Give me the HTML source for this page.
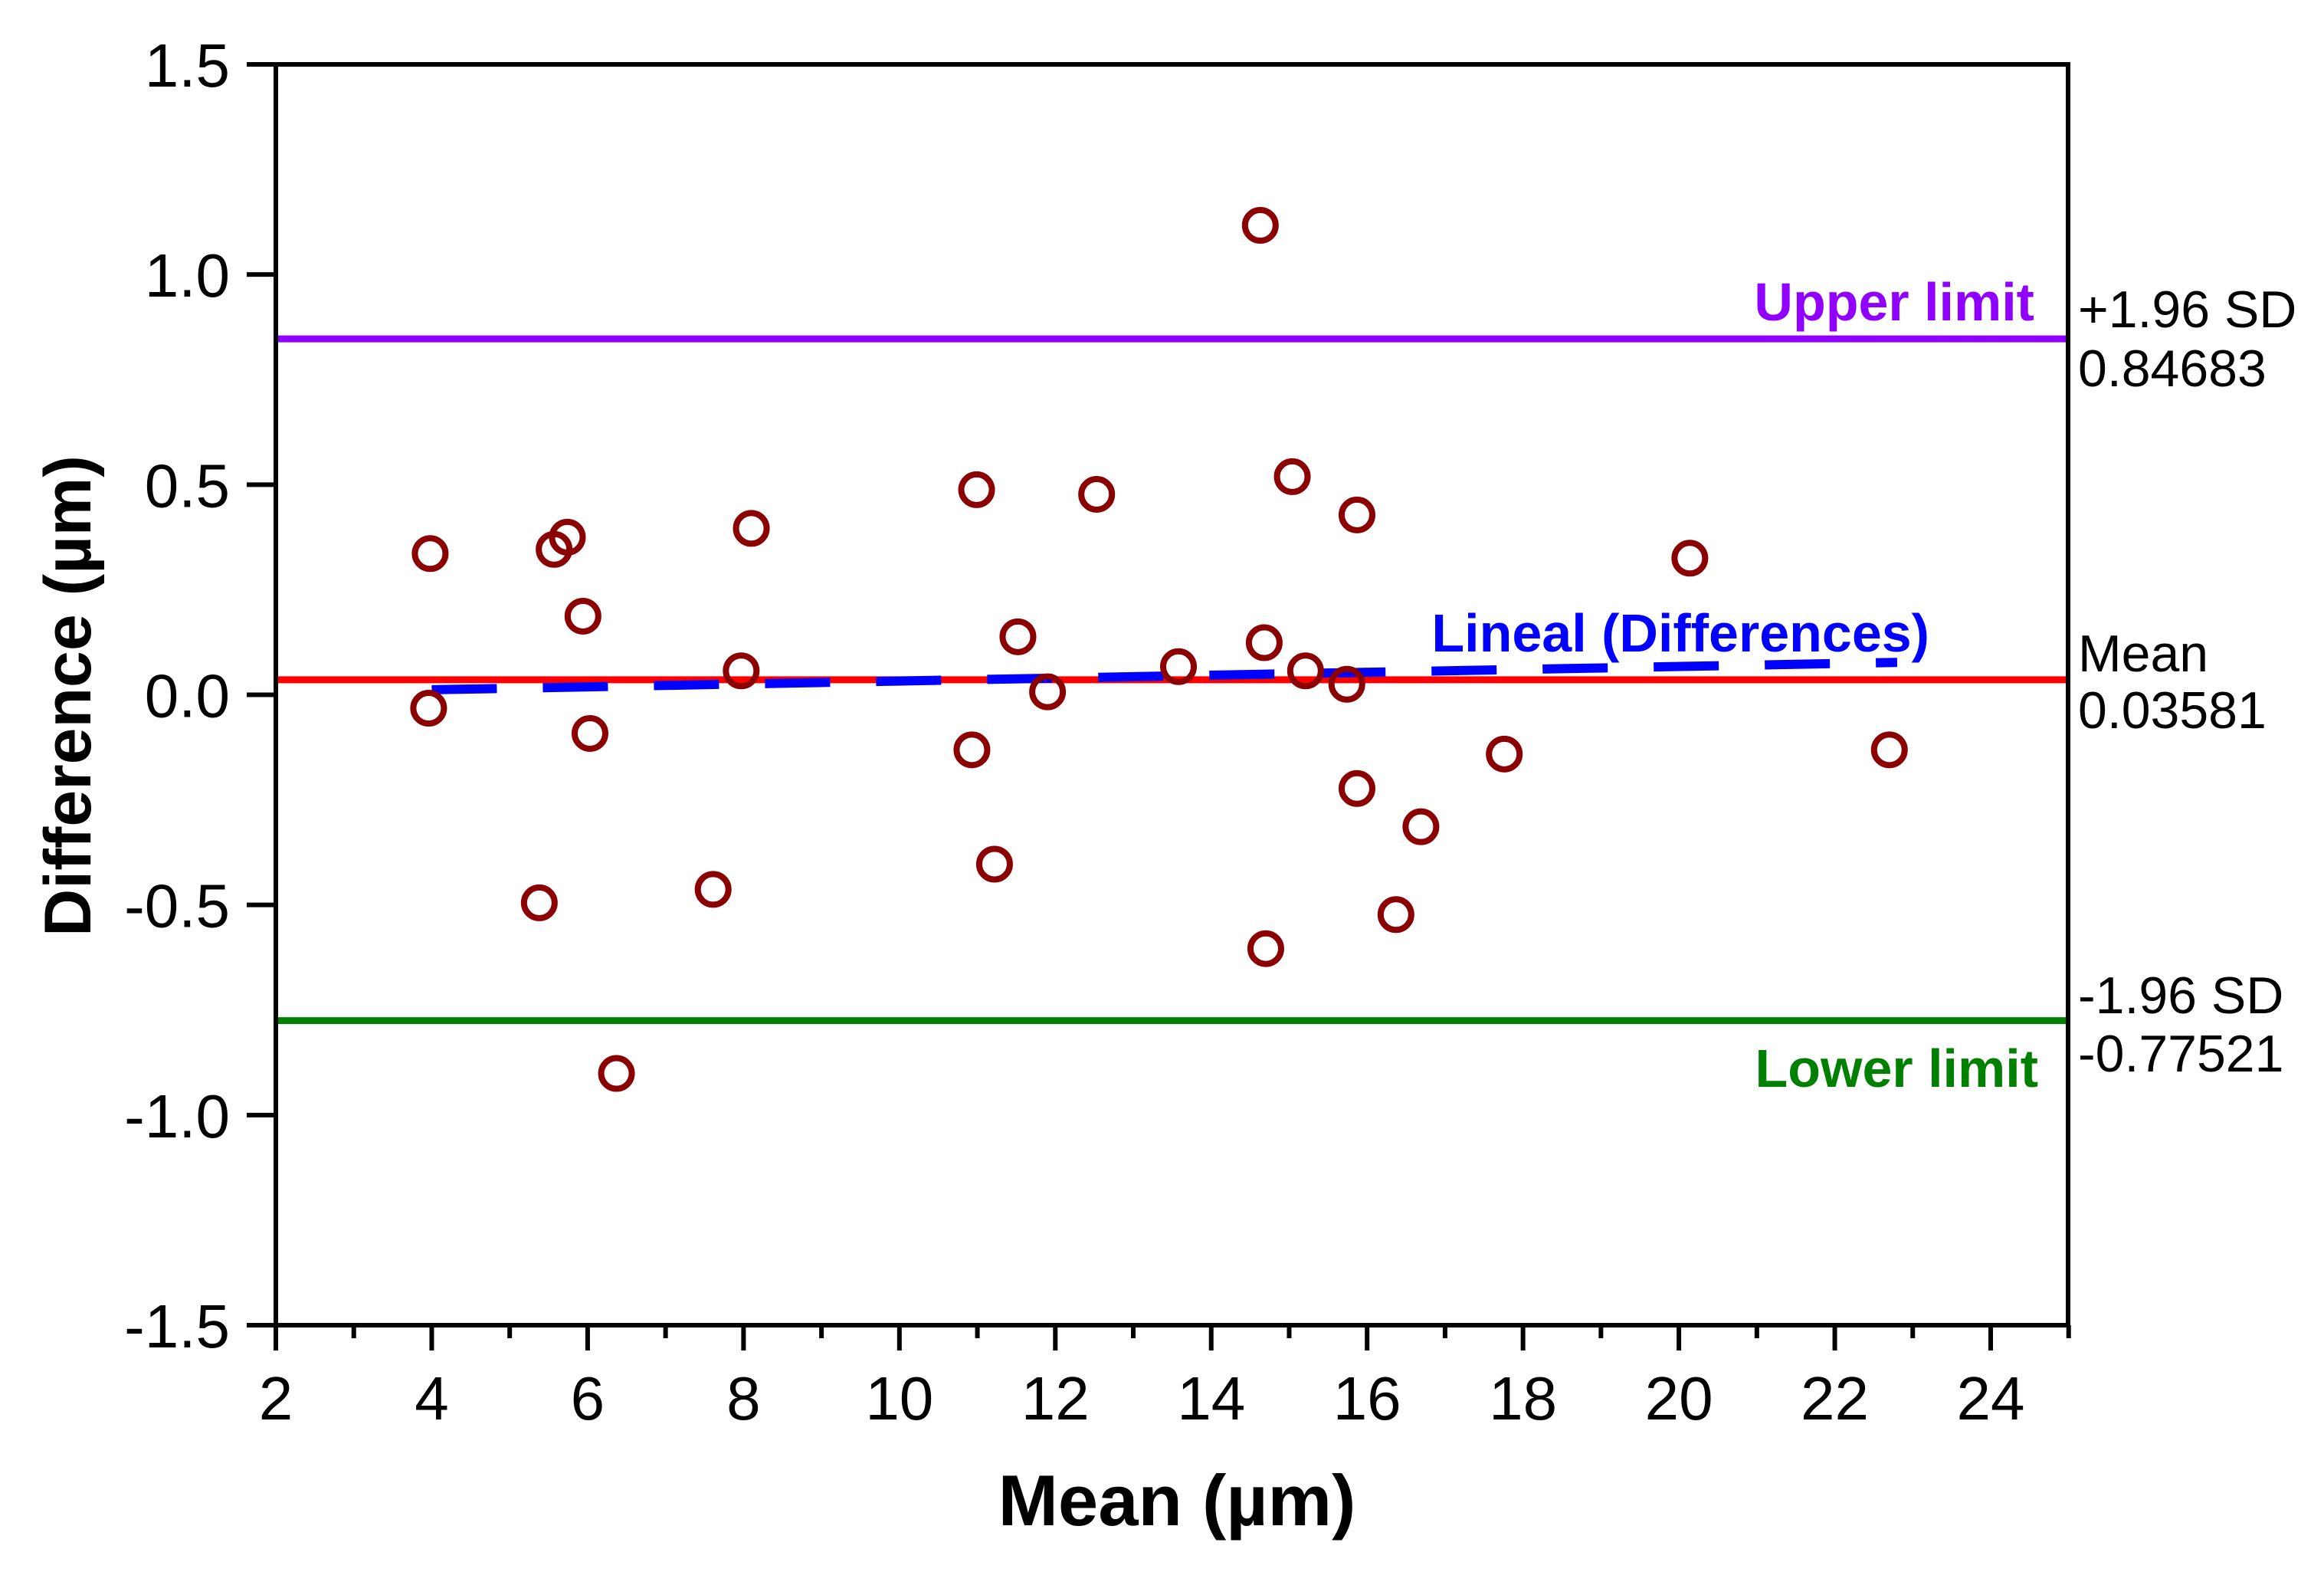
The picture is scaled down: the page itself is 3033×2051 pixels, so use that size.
<!DOCTYPE html>
<html><head><meta charset="utf-8"><style>
html,body{margin:0;padding:0;background:#fff;}
svg{display:block;font-family:"Liberation Sans",Arial,sans-serif;}
</style></head><body>
<svg id="chart" width="3033" height="2051" viewBox="0 0 3033 2051" xmlns="http://www.w3.org/2000/svg">
<rect width="3033" height="2051" fill="#fff"/>
<g id="marks"></g>
<g id="axes"></g>
<text x="1536" y="1990" font-size="94" font-weight="bold" text-anchor="middle">Mean (µm)</text>
<text transform="translate(118,908) rotate(-90)" font-size="86" font-weight="bold" text-anchor="middle">Difference (µm)</text>
</svg>
<script>
const xTicks = [2,4,6,8,10,12,14,16,18,20,22,24];
const yTicks = [1.5,1.0,0.5,0.0,-0.5,-1.0,-1.5];
const yTickLabels = ["1.5","1.0","0.5","0.0","-0.5","-1.0","-1.5"];
const meanVals = [3.98,3.96,5.57,5.74,5.94,6.03,5.38,6.37,7.61,8.10,7.97,10.99,10.93,11.22,11.52,11.90,12.53,13.58,14.63,14.68,14.70,15.04,15.21,15.74,15.87,15.87,16.37,16.69,17.76,20.14,22.70];
const diffVals = [0.336,-0.032,0.346,0.375,0.187,-0.092,-0.495,-0.901,-0.463,0.396,0.057,0.488,-0.131,-0.403,0.138,0.007,0.477,0.067,1.117,0.124,-0.604,0.519,0.057,0.025,0.428,-0.223,-0.523,-0.314,-0.141,0.325,-0.131];
const upperLimit = 0.84683;
const meanDiff = 0.03581;
const lowerLimit = -0.77521;
const fitX = [4.0, 22.8];
const fitY = [0.012, 0.077];

const L=360, R=2699, T=84, B=1729;
const X = v => L + (v-2)*(2598-360)/22;
const Y = v => T + (1.5-v)*(B-T)/3;
const NS="http://www.w3.org/2000/svg";
function mk(tag, attrs, parent){const e=document.createElementNS(NS,tag);for(const k in attrs)e.setAttribute(k,attrs[k]);parent.appendChild(e);return e;}
const marks=document.getElementById('marks'), axes=document.getElementById('axes');

const refs=[[upperLimit,'#8f00ff','upper-limit-line'],[meanDiff,'#ff0000','mean-line'],[lowerLimit,'#008000','lower-limit-line']];
refs.forEach(r=>{
  const ln=mk('line',{x1:L,x2:R,y1:Y(r[0]),y2:Y(r[0]),stroke:r[1],'stroke-width':9},marks);
  
  
});
const fit=mk('line',{x1:X(fitX[0]),y1:Y(fitY[0]),x2:X(fitX[1]),y2:Y(fitY[1]),stroke:'#0000ff','stroke-width':12,'stroke-dasharray':'85 60'},marks);


meanVals.forEach((m,i)=>{
  const c=mk('circle',{cx:X(m),cy:Y(diffVals[i]),r:20,fill:'none',stroke:'#8b0000','stroke-width':8},marks);
  
  
});
const fr=mk('rect',{x:L,y:T,width:R-L,height:B-T,fill:'none',stroke:'#000','stroke-width':6},axes);


xTicks.forEach(t=>{
  const tk=mk('line',{x1:X(t),x2:X(t),y1:B,y2:B+33,stroke:'#000','stroke-width':6},axes);
  
  
  const lb=mk('text',{x:X(t),y:1852,'font-size':80,'text-anchor':'middle'},axes);
  lb.textContent=String(t);
  
  
  const mn=mk('line',{x1:X(t+1),x2:X(t+1),y1:B,y2:B+17,stroke:'#000','stroke-width':6},axes);
  
  
});
yTicks.forEach((t,i)=>{
  const tk=mk('line',{x1:L-38,x2:L,y1:Y(t),y2:Y(t),stroke:'#000','stroke-width':6},axes);
  
  
  const lb=mk('text',{x:300,y:Y(t)+29,'font-size':80,'text-anchor':'end'},axes);
  lb.textContent=yTickLabels[i];
  
  
});
const rl=[['+1.96 SD',427,'plus-sd-label'],[upperLimit.toFixed(5),504,'upper-limit-value'],['Mean',876,'mean-label'],[meanDiff.toFixed(5),950,'mean-value'],['-1.96 SD',1322,'minus-sd-label'],[lowerLimit.toFixed(5),1398,'lower-limit-value']];
rl.forEach(r=>{
  const t=mk('text',{x:2712,y:r[1],'font-size':68},axes);
  t.textContent=r[0];
  
  
});
const inl=[['Upper limit',2655,418,'#8f00ff','upper-limit-label'],['Lineal (Differences)',2518,850,'#0000ff','regression-label'],['Lower limit',2660,1418,'#008000','lower-limit-label']];
inl.forEach(r=>{
  const t=mk('text',{x:r[1],y:r[2],'font-size':70,'font-weight':'bold','text-anchor':'end',fill:r[3]},axes);
  t.textContent=r[0];
  
  
});
</script>
</body></html>
